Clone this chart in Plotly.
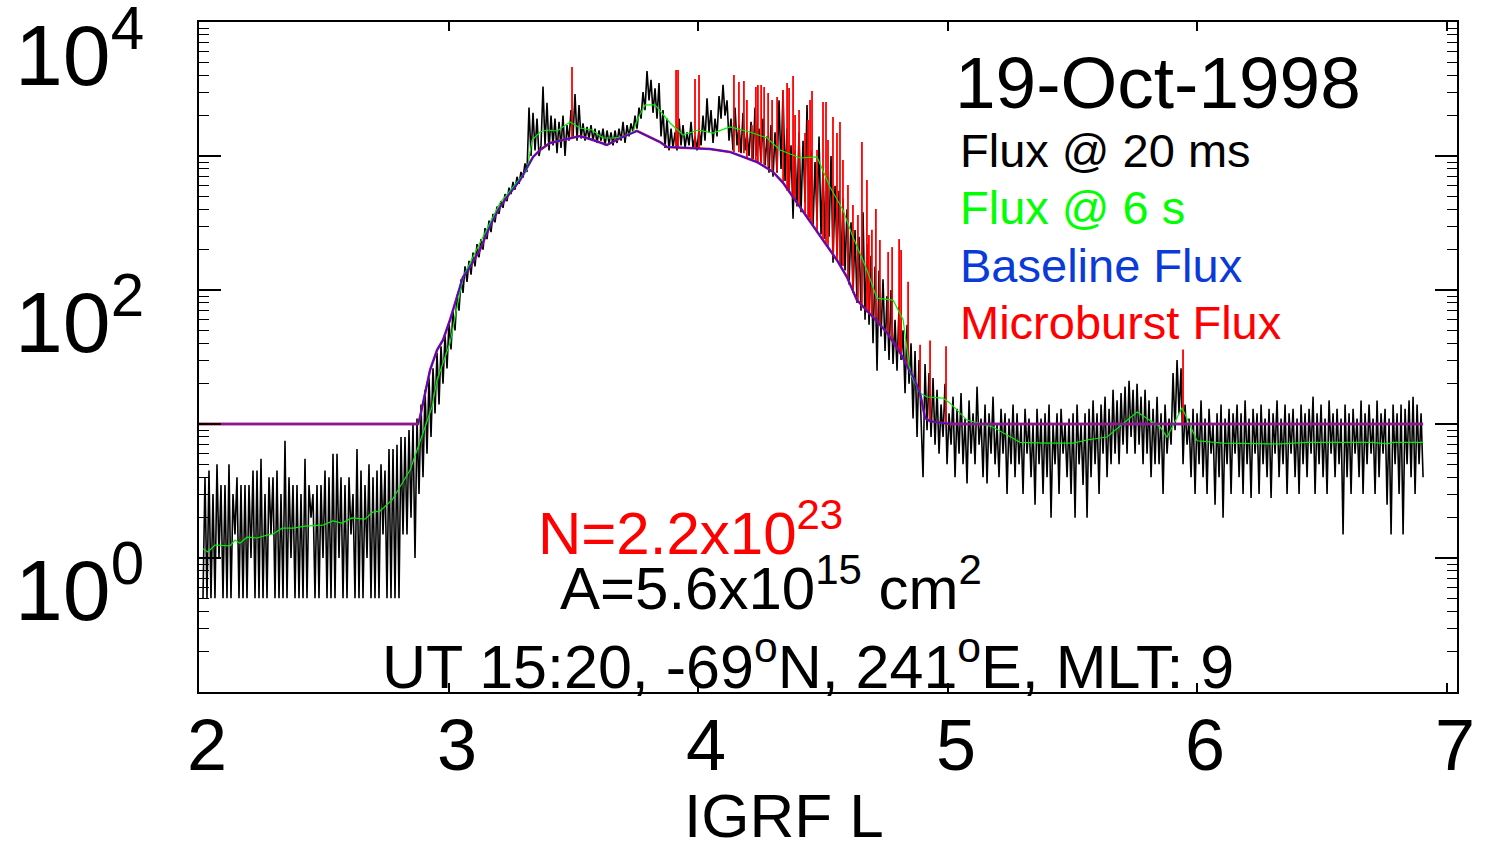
import numpy as np
import plotly.graph_objects as go

# ---------------- data ----------------
# 20 ms flux, uniformly sampled in L between these two limits
black_L_start = 2.016
black_L_end = 6.906
black_flux = [
    # L ~2.02-2.81 (background, counting floor 0.5)
    0.5, 4, 0.5, 4.5, 0.5, 3, 0.5, 5, 1, 3.5,
    0.5, 3.5, 0.5, 5, 0.5, 3, 1.5, 4, 0.5, 3.5,
    0.5, 3.5, 0.5, 3.5, 1, 4.5, 0.5, 4.5, 0.5, 5.5,
    0.5, 3, 0.5, 4, 1.5, 4, 0.5, 4.5, 0.5, 3,
    0.5, 7.5, 0.5, 4, 1, 3.5, 0.5, 3.5, 0.5, 3,
    0.5, 5.5, 0.5, 3.5, 2, 3, 0.5, 3.5, 0.5, 3.5,
    1, 4.5, 0.5, 4, 0.5, 6, 0.5, 6, 1, 4,
    0.5, 3.5, 0.5, 4, 1.5, 3, 0.5, 6.5, 0.5, 4.5,
    0.5, 3.5, 1, 5, 0.5, 4, 0.5, 4.5, 0.5, 5,
    1.5, 4.5, 0.5, 6.5, 0.5, 6.5, 0.5, 7, 0.5, 8,
    # L ~2.82-2.88
    1.5, 8, 1.5, 9, 2, 10, 1, 11, 3,
    # L ~2.89-3.36 (rising edge)
    14, 4, 18, 6, 22, 8, 26, 12, 34, 14,
    38, 20, 46, 26, 58, 36, 70, 50, 92, 70,
    120, 95, 150, 115, 165, 130, 190, 150, 220, 175,
    240, 200, 290, 240, 330, 270, 370, 320, 420, 370,
    460, 410, 520, 460, 580, 520, 640, 560, 700, 620,
    760, 690, 880, 760, 2300, 1000, 2100, 1100, 1900, 1000,
    # L ~3.37-3.84 (plateau)
    1200, 3300, 1200, 2500, 1100, 2000, 1200, 1900, 1050, 1800,
    1150, 2000, 1000, 1700, 1300, 2200, 1400, 2900, 1300, 2400,
    1350, 1750, 1300, 1650, 1350, 1700, 1300, 1600, 1250, 1550,
    1300, 1600, 1200, 1550, 1250, 1500, 1200, 1550, 1250, 1600,
    1300, 1800, 1250, 1700, 1400, 1750, 1500, 2000, 1600, 2300,
    1900, 3000, 2200, 4300, 2600, 3700, 2100, 3200, 1900, 3500,
    # L ~3.85-4.94 (falling edge)
    1400, 2200, 1150, 1900, 1100, 1600, 1150, 1500, 1100, 1900,
    1200, 1700, 1150, 1500, 1200, 1800, 1150, 1400, 1100, 1600,
    1200, 2000, 1300, 2700, 1500, 2200, 1250, 1900, 1400, 2800,
    1900, 3400, 2000, 2600, 1300, 1900, 1100, 2300, 1200, 1700,
    1050, 2100, 1100, 1500, 1000, 1800, 950, 2300, 1000, 1600,
    900, 1900, 850, 1400, 750, 1700, 700, 1500, 750, 2600,
    800, 3100, 650, 1600, 550, 1200, 340, 1100, 420, 1500,
    380, 1300, 450, 2400, 350, 1100, 300, 900, 330, 1400,
    260, 800, 240, 700, 250, 1000, 160, 600, 180, 550,
    150, 480, 140, 400, 110, 320, 95, 280, 80, 250,
    70, 380, 60, 220, 55, 180, 40, 150, 25, 140,
    45, 120, 35, 90, 30, 100, 28, 60, 25, 75,
    30, 50, 17, 55, 20, 40, 11, 35, 8, 30,
    12, 4, 28, 9, 24, 8, 22, 7,
    # L ~4.95-6.91 (outer zone background)
    18, 6, 14, 8, 20, 5, 12, 7, 16, 4,
    13, 6, 17, 5, 11, 3.6, 15, 6, 12, 5,
    19, 7, 11, 4, 14, 3.6, 12, 6, 16, 5,
    10, 4, 13, 6, 12, 3, 11, 5, 14, 4,
    12, 5, 10, 3, 13, 6, 11, 4, 10, 2.5,
    13, 5, 11, 3, 12, 4, 14, 2, 10, 5,
    12, 3, 13, 6, 10, 4, 11, 3, 12, 2,
    14, 5, 10, 3.5, 12, 2, 13, 4, 15, 5,
    12, 3, 14, 6, 16, 4, 13, 5, 18, 6,
    15, 5, 17, 7, 19, 6, 21, 8, 18, 6,
    20, 7, 16, 5, 18, 6, 15, 4, 13, 5,
    16, 5, 12, 3, 14, 6, 11, 7, 24, 9,
    30, 12, 26, 5, 14, 7, 11, 4, 13, 3,
    12, 5, 15, 4, 11, 3, 13, 6, 10, 2.5,
    12, 4, 14, 2, 11, 5, 13, 3, 12, 6,
    14, 4, 12, 3, 15, 5, 11, 2.8, 13, 6,
    12, 3, 14, 5, 11, 4, 13, 2.8, 12, 6,
    15, 4, 11, 5, 14, 3, 12, 6, 13, 4,
    11, 3, 14, 5, 12, 4, 13, 6, 16, 3,
    12, 5, 14, 4, 11, 3, 15, 6, 12, 4,
    13, 5, 11, 1.5, 14, 4, 12, 3, 13, 6,
    11, 4, 15, 3, 12, 5, 14, 6, 11, 3,
    15, 4, 12, 6, 13, 2.5, 11, 1.5, 14, 5,
    12, 3, 14, 1.5, 13, 5, 15, 4, 16, 3,
    14, 5, 12, 4,
]

# 6 s flux
green_L = [2.016, 2.036, 2.064, 2.124, 2.144, 2.164, 2.192, 2.232, 2.273, 2.297,
           2.333, 2.377, 2.425, 2.497, 2.537, 2.573, 2.613, 2.665, 2.697, 2.725,
           2.774, 2.806, 2.846, 2.874, 2.906, 2.934, 2.954, 3.006, 3.058, 3.098,
           3.154, 3.206, 3.259, 3.315, 3.335, 3.367, 3.395, 3.435, 3.487, 3.527,
           3.575, 3.619, 3.659, 3.699, 3.739, 3.760, 3.788, 3.828, 3.888, 3.940,
           4.000, 4.060, 4.128, 4.208, 4.277, 4.329, 4.409, 4.477, 4.529, 4.581,
           4.621, 4.677, 4.717, 4.782, 4.822, 4.850, 4.890, 4.918, 4.982, 5.010,
           5.078, 5.182, 5.291, 5.399, 5.503, 5.559, 5.639, 5.760, 5.852, 5.880,
           5.940, 6.000, 6.104, 6.333, 6.441, 6.705, 6.762, 6.786, 6.906]
green_flux = [1.17, 1.11, 1.25, 1.23, 1.36, 1.29, 1.43, 1.41, 1.48, 1.51,
              1.67, 1.67, 1.73, 1.76, 1.89, 1.82, 1.99, 1.95, 2.20, 2.24,
              2.71, 3.39, 4.54, 6.4, 9.5, 13.4, 21.3, 40.2, 125, 176,
              280, 446, 587, 787, 1316, 1510, 1563, 1537, 1794, 1618,
              1563, 1363, 1363, 1386, 1510, 1921, 2404, 2404, 1763, 1434,
              1563, 1484, 1646, 1510, 1363, 1109, 966, 984, 587, 395,
              249, 141, 87, 84, 60, 24, 17, 15.9, 15.6, 14.3,
              10.7, 9.5, 7.3, 7.2, 7.2, 7.6, 8.0, 12.3, 9.5, 8.0,
              13.2, 7.5, 7.2, 7.1, 7.3, 7.3, 7.1, 7.3, 7.3]

# baseline flux
baseline_L = [2.0, 2.878, 2.886, 2.906, 2.926, 2.954, 2.978, 3.006, 3.034, 3.058,
              3.086, 3.126, 3.154, 3.178, 3.206, 3.246, 3.287, 3.315, 3.339, 3.367,
              3.407, 3.475, 3.527, 3.579, 3.635, 3.687, 3.755, 3.848, 3.876, 4.048,
              4.128, 4.236, 4.301, 4.341, 4.397, 4.449, 4.501, 4.557, 4.597, 4.637,
              4.701, 4.758, 4.810, 4.862, 4.890, 4.910, 4.930, 5.010, 6.906]
baseline_flux = [10, 10, 11.3, 17.0, 25.3, 35.6, 42.4, 59.7, 88.7, 125,
                 149, 199, 266, 333, 416, 530, 662, 828, 984, 1109,
                 1250, 1340, 1409, 1315, 1208, 1361, 1538, 1271, 1167, 1127,
                 1072, 902, 760, 630, 446, 321, 236, 167, 125, 84,
                 63, 48, 34, 22.4, 17.0, 11.1, 10.5, 10, 10]

# microburst flux spikes (position, baseline under it, peak)
burst_L = [3.495, 3.912, 3.920, 3.988, 4.004, 4.144, 4.164, 4.184, 4.196, 4.216,
           4.232, 4.240, 4.253, 4.265, 4.281, 4.297, 4.317, 4.341, 4.357, 4.365,
           4.381, 4.389, 4.405, 4.429, 4.441, 4.449, 4.457, 4.477, 4.501, 4.513,
           4.521, 4.541, 4.557, 4.569, 4.581, 4.601, 4.621, 4.641, 4.657, 4.677,
           4.685, 4.697, 4.713, 4.729, 4.762, 4.778, 4.806, 4.814, 4.842, 4.890,
           4.930, 4.994, 5.944]
burst_base = [1340, 1148, 1148, 1127, 1127, 1072, 1065, 1050, 965, 930,
              902, 900, 880, 860, 830, 770, 770, 630, 550, 540,
              500, 470, 420, 372, 335, 321, 310, 270, 236, 224,
              210, 186, 167, 158, 151, 123, 98, 82, 74, 68,
              66, 63, 62, 55, 48, 42, 35, 33, 26, 17,
              10.5, 10, 10]
burst_peak = [4617, 4385, 4385, 3755, 4018, 4018, 3565, 3630, 2618, 1703,
              3275, 3388, 3388, 3273, 2951, 2618, 2754, 3110, 3508, 3215,
              3955, 2023, 2204, 1484, 1857, 2618, 3055, 1109, 2529, 2529,
              1316, 1954, 1484, 1794, 933, 608, 431, 363, 1271, 662,
              257, 281, 402, 236, 192, 209, 240, 199, 115, 39,
              42, 38, 36]

x_ticks = [2, 3, 4, 5, 6, 7]
y_label_vals = [0, 2, 4]

FONT = "Liberation Sans, Arial, Helvetica, sans-serif"
PURPLE = "#7a1fa2"

black_L = np.linspace(black_L_start, black_L_end, len(black_flux))

red_x, red_y = [], []
for L, b, p in zip(burst_L, burst_base, burst_peak):
    red_x += [L, L, None]
    red_y += [b, p, None]

fig = go.Figure()
fig.add_trace(go.Scatter(x=black_L, y=black_flux, mode="lines",
                         line=dict(color="black", width=1.6), hoverinfo="skip"))
fig.add_trace(go.Scatter(x=baseline_L, y=baseline_flux, mode="lines",
                         line=dict(color="red", width=2.5), hoverinfo="skip"))
fig.add_trace(go.Scatter(x=red_x, y=red_y, mode="lines",
                         line=dict(color="red", width=1.8), hoverinfo="skip"))
fig.add_trace(go.Scatter(x=green_L, y=green_flux, mode="lines",
                         line=dict(color="#00ee00", width=1.2), hoverinfo="skip"))
fig.add_trace(go.Scatter(x=baseline_L, y=baseline_flux, mode="lines",
                         line=dict(color="#1a1aff", width=1.5), hoverinfo="skip"))
fig.add_trace(go.Scatter(x=baseline_L[:2], y=baseline_flux[:2], mode="lines",
                         line=dict(color=PURPLE, width=2.5), hoverinfo="skip"))
fig.add_trace(go.Scatter(x=baseline_L[-2:], y=baseline_flux[-2:], mode="lines",
                         line=dict(color=PURPLE, width=2.5), hoverinfo="skip"))

W, H = 1485, 841
L_M, R_M, T_M, B_M = 199, 28, 22, 149
PW, PH = W - L_M - R_M, H - T_M - B_M


def px(xp):
    return (xp - L_M) / PW


def py(yp):
    return (H - B_M - yp) / PH


annotations = []
# y tick labels (drawn offset below their ticks, as in the original)
for e, base_y in zip(y_label_vals, [640, 372, 105]):
    annotations.append(dict(text=f"10<sup>{e}</sup>", x=px(146), y=py(base_y),
                            xanchor="right", yanchor="bottom",
                            font=dict(size=86, color="black", family=FONT)))
# x tick labels
for t in x_ticks:
    annotations.append(dict(text=str(t), x=t, xref="x", xshift=8, y=py(745),
                            xanchor="center", yanchor="middle",
                            font=dict(size=72, color="black", family=FONT)))

annotations += [
    dict(text="IGRF L", x=px(784), y=py(815), xanchor="center", yanchor="middle",
         font=dict(size=62, color="black", family=FONT)),
    dict(text="19-Oct-1998", x=px(1158), y=py(82), xanchor="center", yanchor="middle",
         font=dict(size=73, color="black", family=FONT)),
    dict(text="Flux @ 20 ms", x=px(958), y=py(150), xanchor="left", yanchor="middle",
         font=dict(size=47, color="black", family=FONT)),
    dict(text="Flux @ 6 s", x=px(958), y=py(207), xanchor="left", yanchor="middle",
         font=dict(size=47, color="#00ff00", family=FONT)),
    dict(text="Baseline Flux", x=px(958), y=py(265), xanchor="left", yanchor="middle",
         font=dict(size=47, color="#0a3ad8", family=FONT)),
    dict(text="Microburst Flux", x=px(958), y=py(322), xanchor="left", yanchor="middle",
         font=dict(size=47, color="#ff0000", family=FONT)),
    dict(text="N=2.2x10<sup>23</sup>", x=px(690), y=py(569), xanchor="center", yanchor="bottom",
         font=dict(size=60, color="#ff0000", family=FONT)),
    dict(text="A=5.6x10<sup>15</sup> cm<sup>2</sup>", x=px(771), y=py(624), xanchor="center",
         yanchor="bottom", font=dict(size=60, color="black", family=FONT)),
    dict(text="UT 15:20, -69<sup>o</sup>N, 241<sup>o</sup>E, MLT: 9", x=px(808), y=py(703),
         xanchor="center", yanchor="bottom", font=dict(size=61, color="black", family=FONT)),
]
for a in annotations:
    a.setdefault("xref", "paper")
    a.setdefault("yref", "paper")
    a.setdefault("showarrow", False)

fig.update_layout(
    width=W, height=H,
    margin=dict(l=L_M, r=R_M, t=T_M, b=B_M),
    plot_bgcolor="white", paper_bgcolor="white",
    showlegend=False,
    font=dict(family=FONT, color="black"),
    annotations=annotations,
)
fig.update_xaxes(
    range=[2, 7.042], tickmode="array", tickvals=x_ticks,
    ticks="inside", ticklen=9, tickwidth=1.5, tickcolor="black",
    showline=True, linewidth=2, linecolor="black", mirror="allticks",
    showgrid=False, zeroline=False, showticklabels=False,
)
fig.update_yaxes(
    type="log", range=[-1, 4], tickmode="linear", tick0=0, dtick=1,
    ticks="inside", ticklen=22, tickwidth=1.5, tickcolor="black",
    showline=True, linewidth=2, linecolor="black", mirror="allticks",
    showgrid=False, zeroline=False, showticklabels=False,
    minor=dict(dtick="D1", ticks="inside", ticklen=10, tickwidth=1, tickcolor="black",
               showgrid=False),
)

fig.write_html("out.html")
